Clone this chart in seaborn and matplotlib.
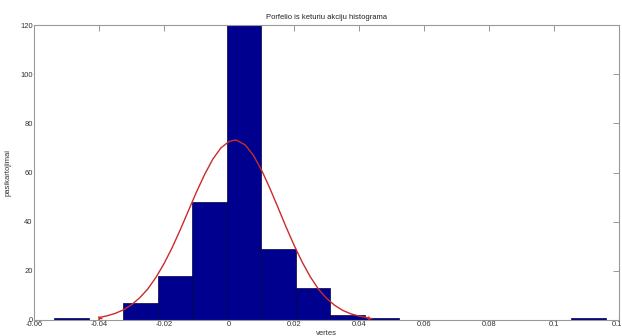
import numpy as np
import pandas as pd
import matplotlib
matplotlib.use("Agg")
import matplotlib.pyplot as plt
import seaborn as sns

# Histogram data (bin edges and counts)
bin_edges = [-0.0537, -0.0431, -0.0325, -0.0219, -0.0113, -0.0007, 0.0099,
             0.0205, 0.0311, 0.0417, 0.0523, 0.0629, 0.0735, 0.0841,
             0.0947, 0.1053, 0.1159]
counts = [1, 0, 7, 18, 48, 135, 29, 13, 2, 1, 0, 0, 0, 0, 0, 1]

# Fitted normal curve
curve_x = [-0.0400, -0.0375, -0.0350, -0.0325, -0.0300, -0.0275, -0.0250,
           -0.0225, -0.0200, -0.0175, -0.0150, -0.0125, -0.0100, -0.0075,
           -0.0050, -0.0025, 0.0000, 0.0018, 0.0025, 0.0050, 0.0075, 0.0100,
           0.0125, 0.0150, 0.0175, 0.0200, 0.0225, 0.0250, 0.0275, 0.0300,
           0.0325, 0.0350, 0.0375, 0.0400, 0.0430]
curve_y = [1.0, 1.7, 2.7, 4.1, 6.2, 9.0, 12.6, 17.3, 22.9, 29.4, 36.7, 44.4,
           52.1, 59.2, 65.4, 70.0, 72.6, 73.2, 73.0, 71.2, 67.0, 61.0, 53.8,
           46.0, 38.0, 30.5, 23.6, 17.6, 12.6, 8.8, 6.0, 3.9, 2.5, 1.6, 0.8]

x_ticks = [-0.06, -0.04, -0.02, 0, 0.02, 0.04, 0.06, 0.08, 0.1, 0.12]
x_tick_labels = ["-0.06", "-0.04", "-0.02", "0", "0.02", "0.04", "0.06", "0.08", "0.1", "0.12"]
y_ticks = [0, 20, 40, 60, 80, 100, 120]

title = "Porfelio is keturiu akciju histograma"
xlabel = "vertes"
ylabel = "pasikartojimai"

sns.set_style("white")
plt.rcParams["font.family"] = ["Liberation Sans", "DejaVu Sans"]

fig = plt.figure(figsize=(6.22, 3.36), dpi=100)
ax = fig.add_axes([34 / 622, 16 / 336, 585 / 622, 295 / 336])

centers = [(bin_edges[i] + bin_edges[i + 1]) / 2 for i in range(len(counts))]
df = pd.DataFrame({"x": centers, "w": counts})
sns.histplot(data=df, x="x", weights="w", bins=bin_edges, ax=ax,
             color="#00008f", edgecolor="#000040", linewidth=0.5, alpha=1.0)

cdf = pd.DataFrame({"x": curve_x, "y": curve_y})
sns.lineplot(data=cdf, x="x", y="y", ax=ax, color="#cc2a2a", linewidth=1.0)
ax.plot([curve_x[0], curve_x[-1]], [curve_y[0], curve_y[-1]], linestyle="none",
        marker="4", color="#cc2a2a", markersize=4)

ax.set_xlim(-0.06, 0.12)
ax.set_ylim(0, 120)
ax.set_xticks(x_ticks)
ax.set_xticklabels(x_tick_labels)
ax.set_yticks(y_ticks)
ax.tick_params(direction="in", length=4, width=0.6, colors="#888888",
               labelcolor="#333333", labelsize=5.5, top=True, right=True, pad=1)
for s in ax.spines.values():
    s.set_color("#999999")
    s.set_linewidth(0.8)

ax.set_title(title, fontsize=5.5, color="#222222", pad=4)
ax.set_xlabel(xlabel, fontsize=5.5, color="#333333", labelpad=1)
ax.set_ylabel(ylabel, fontsize=5.5, color="#333333", labelpad=6)

fig.savefig("out.png", dpi=100)
